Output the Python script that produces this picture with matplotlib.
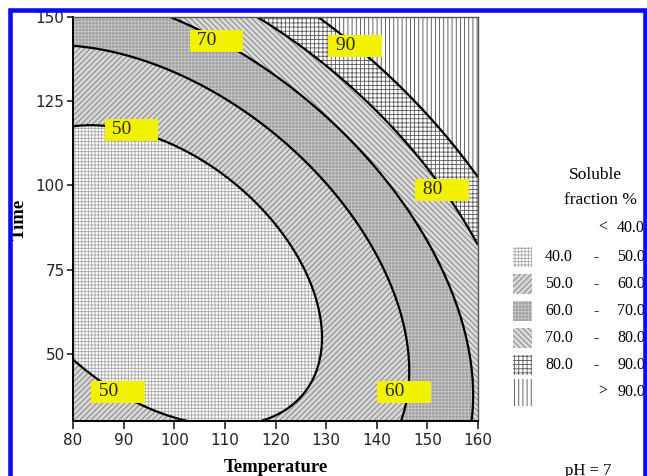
import numpy as np
import matplotlib.pyplot as plt
from matplotlib.patches import Rectangle

# second-order response surface for soluble fraction (%), coded units:
# x = (Temperature - 120) / 40, y = (Time - 90) / 60
b0, bT, bt = 50.43, 19.28, 16.15
bTT, btt, bTt = 13.7, 16.15, 12.33

temp_range = [80, 160]
time_range = [30, 150]
bounds = [0, 40, 50, 60, 70, 80, 90, 200]
line_levels = [50, 60, 70, 80, 90]
legend_left = ["", "40.0", "50.0", "60.0", "70.0", "80.0", ""]
legend_right = ["40.0", "50.0", "60.0", "70.0", "80.0", "90.0", "90.0"]
legend_sign = ["<", "-", "-", "-", "-", "-", ">"]

# labelled contours: level and where its tag sits
tag_level = [70, 90, 50, 80, 50, 60]
tag_T = [108.3, 135.7, 91.5, 152.9, 88.9, 145.4]
tag_t = [142.9, 141.4, 116.5, 98.7, 38.7, 38.7]

# fill style for each band
faces = ["white", "white", "#d6d6d6", "#a0a0a0", "#dadada", "white", "white"]
hatches = [None, "+++++", "//////", "+++++", "\\\\\\\\\\\\", "++++", "||||"]
hcolors = ["black", "#a8a8a8", "#7a7a7a", "#c8c8c8", "#7a7a7a", "#5a5a5a", "#4a4a4a"]

plt.rcParams["hatch.linewidth"] = 0.6
serif = ["Liberation Serif", "DejaVu Serif"]

T = np.linspace(temp_range[0], temp_range[1], 401)
t = np.linspace(time_range[0], time_range[1], 401)
TT, tt = np.meshgrid(T, t)
x = (TT - 120) / 40
y = (tt - 90) / 60
Z = b0 + bT * x + bt * y + bTT * x**2 + btt * y**2 + bTt * x * y

W, H = 647, 476
fig = plt.figure(figsize=(W / 100, H / 100), dpi=100)
ax = fig.add_axes([73 / W, 1 - 421 / H, 405 / W, 404 / H])

for i in range(len(bounds) - 1):
    with plt.rc_context({"hatch.color": hcolors[i]}):
        ax.contourf(T, t, Z, levels=[bounds[i], bounds[i + 1]],
                    colors=[faces[i]], hatches=[hatches[i]])
ax.contour(T, t, Z, levels=line_levels, colors="black", linewidths=1.6)

for lv, xt, yt in zip(tag_level, tag_T, tag_t):
    ax.text(xt, yt, " %d     " % lv, ha="center", va="center", fontsize=14,
            family=serif, color="#2a2a00", zorder=5,
            bbox=dict(boxstyle="square,pad=0.12", fc="#f2f200", ec="none"))

ax.set_xlim(temp_range)
ax.set_ylim(time_range)
ax.set_xticks(range(80, 161, 10))
ax.set_yticks([50, 75, 100, 125, 150])
ax.tick_params(axis="x", length=5.5, width=1.2, pad=3, labelsize=11, colors="#222222")
ax.tick_params(axis="y", length=4.5, width=1.2, pad=1.5, labelsize=11, colors="#222222")
for s in ["left", "bottom"]:
    ax.spines[s].set_linewidth(1.4)
for s in ["top", "right"]:
    ax.spines[s].set_linewidth(1.0)
    ax.spines[s].set_color("#555555")

ax.set_xlabel("Temperature", family=serif, fontweight="bold", fontsize=13.5)
ax.xaxis.set_label_coords(0.5, -(459 - 421) / 404)
ax.set_ylabel("Time", family=serif, fontweight="bold", fontsize=13.5)
ax.yaxis.set_label_coords((28 - 73) / 405, 0.5)

# legend, placed in pixel units
def fx(px):
    return px / W

def fy(py):
    return 1 - py / H

fig.text(fx(595), fy(175), "Soluble", ha="center", va="center", fontsize=12.5, family=serif)
fig.text(fx(601), fy(200), "fraction %", ha="center", va="center", fontsize=12.5, family=serif)

row_y = [228, 257, 284, 311, 338, 365, 392]
for i, ry in enumerate(row_y):
    if i > 0:
        h = 20 if i < 6 else 27
        fig.add_artist(Rectangle((fx(513), fy(ry + h / 2)), 19 / W, h / H,
                                 transform=fig.transFigure, facecolor=faces[i],
                                 edgecolor=hcolors[i], linewidth=0, hatch=hatches[i]))
    if legend_left[i]:
        fig.text(fx(545), fy(ry), legend_left[i], va="center", fontsize=11.5, family=serif)
    fig.text(fx(598 if legend_sign[i] != "-" else 593), fy(ry), legend_sign[i],
             va="center", fontsize=11.5, family=serif)
    fig.text(fx(617), fy(ry), legend_right[i], va="center", fontsize=11.5, family=serif)

fig.text(fx(588), fy(463), "pH = 7", ha="center", va="top", fontsize=12, family=serif)

# blue frame around the figure
fig.add_artist(Rectangle((fx(9.5), -0.1), (645 - 9.5) / W, 1.1 - 9.5 / H,
                         transform=fig.transFigure, fill=False,
                         edgecolor="#0b0bf5", linewidth=3.3, zorder=10))

fig.savefig("out.png", dpi=100)
